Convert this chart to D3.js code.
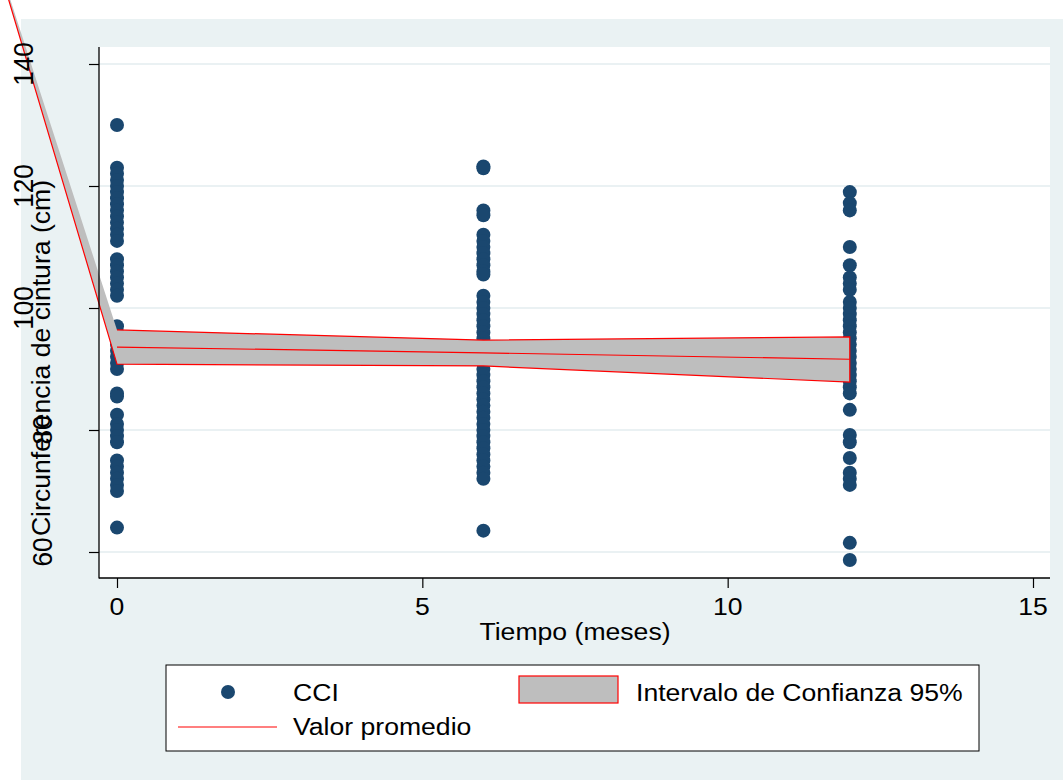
<!DOCTYPE html>
<html>
<head>
<meta charset="utf-8">
<script src="https://cdn.jsdelivr.net/npm/d3@7"></script>
<style>
  body { margin: 0; background: #fff; }
  svg { display: block; }
  text { font-family: "Liberation Sans", Arial, sans-serif; fill: #000; }
</style>
</head>
<body>
<svg id="chart" width="1063" height="780"></svg>
<script>
// Observed waist values (cm) at each visit
var timePoints = [0, 6, 12];
var cciMes0 = [130, 123, 122, 121, 120, 119, 118, 117, 116, 115, 114, 113, 112, 111,
  108, 107, 106, 105, 104, 103, 102, 97, 96, 95, 94, 93, 92, 91, 90,
  86, 85.5, 82.5, 81, 80, 79, 78, 75, 74, 73, 72, 71, 70, 64];
var cciMes6 = [123.2, 122.9, 116, 115.2, 112, 111, 110, 109, 108, 107, 106, 105.5,
  102, 101, 100, 99, 98, 97, 96, 95, 94, 93, 92, 91, 90, 89, 88, 87, 86, 85, 84,
  83, 82, 81, 80, 79, 78, 77, 76, 75, 74, 73, 72, 63.5];
var cciMes12 = [119, 117.2, 116, 110, 107, 105, 104, 103, 101, 100, 99, 98, 97, 96,
  95, 94, 93, 92, 91, 90, 89, 88, 87, 86, 83.3, 79.2, 78, 75.4, 73, 72, 71, 61.5, 58.7];

// Confidence band and mean line
var bandTime = [-2.1, 0, 6, 12];
var bandUpper = [161.5, 96.4, 94.75, 95.25];
var bandLower = [161.5, 90.8, 90.5, 87.85];
var meanTime = [0, 6, 12];
var meanValue = [93.6, 92.65, 91.6];

var xTicks = [0, 5, 10, 15];
var yTicks = [60, 80, 100, 120, 140];

var svg = d3.select("#chart");
var navy = "#1a476f", red = "#ff0000", bandGrey = "#bebebe";
var fs = 26.6, squash = 0.9;

var plot = { left: 99, top: 47, right: 1050, bottom: 578 };
var x = d3.scaleLinear().domain([0, 15]).range([117, 1033]);
var y = d3.scaleLinear().domain([60, 140]).range([552, 64]);

// graph region
svg.append("rect").attr("x", 21).attr("y", 19).attr("width", 1042).attr("height", 761)
  .attr("fill", "#eaf2f3");
svg.append("rect").attr("x", plot.left).attr("y", plot.top)
  .attr("width", plot.right - plot.left).attr("height", plot.bottom - plot.top)
  .attr("fill", "#fff");

// grid
svg.append("g").selectAll("line").data(yTicks).enter().append("line")
  .attr("x1", plot.left).attr("x2", plot.right)
  .attr("y1", d => y(d)).attr("y2", d => y(d))
  .attr("stroke", "#e3ecef").attr("stroke-width", 1.6);

// scatter
var pts = [];
[cciMes0, cciMes6, cciMes12].forEach(function(arr, i) {
  arr.forEach(function(v) { pts.push({ t: timePoints[i], v: v }); });
});
svg.append("g").selectAll("circle").data(pts).enter().append("circle")
  .attr("cx", d => x(d.t)).attr("cy", d => y(d.v)).attr("r", 7)
  .attr("fill", navy);

// band
var band = bandTime.map((t, i) => ({ t: t, lo: bandLower[i], hi: bandUpper[i] }));
var area = d3.area().x(d => x(d.t)).y0(d => y(d.lo)).y1(d => y(d.hi));
svg.append("path").datum(band).attr("d", area).attr("fill", bandGrey);

var outline = band.map(d => [x(d.t), y(d.lo)])
  .concat(band.slice(1).reverse().map(d => [x(d.t), y(d.hi)]));
svg.append("path").attr("d", d3.line()(outline))
  .attr("fill", "none").attr("stroke", red).attr("stroke-width", 1.2);

// mean line
svg.append("path")
  .attr("d", d3.line()(meanTime.map((t, i) => [x(t), y(meanValue[i])])))
  .attr("fill", "none").attr("stroke", red).attr("stroke-width", 1.2);

// axes
var yAxis = d3.axisLeft(y).tickValues(yTicks).tickSize(10).tickFormat("");
var gy = svg.append("g").attr("transform", "translate(" + plot.left + ",0)").call(yAxis);
var xAxis = d3.axisBottom(x).tickValues(xTicks).tickSize(10).tickFormat("");
var gx = svg.append("g").attr("transform", "translate(0," + plot.bottom + ")").call(xAxis);
[gx, gy].forEach(function(g) {
  g.select(".domain").remove();
  g.selectAll("line").attr("stroke", "#000").attr("stroke-width", 1.2);
});
svg.append("line").attr("x1", plot.left).attr("x2", plot.left)
  .attr("y1", plot.top).attr("y2", plot.bottom + 0.6)
  .attr("stroke", "#000").attr("stroke-width", 1.3);
svg.append("line").attr("x1", plot.left).attr("x2", plot.right)
  .attr("y1", plot.bottom).attr("y2", plot.bottom)
  .attr("stroke", "#000").attr("stroke-width", 1.3);

// tick labels (two-digit y labels sit further right, as in the original)
svg.append("g").selectAll("text").data(xTicks).enter().append("text")
  .attr("transform", d => "translate(" + x(d) + ",615) scale(1," + squash + ")")
  .attr("text-anchor", "middle").style("font-size", fs + "px").text(d => d);
svg.append("g").selectAll("text").data(yTicks).enter().append("text")
  .attr("transform", d => "translate(" + (d >= 100 ? 33 : 52) + "," + y(d) + ") scale(1,0.95) rotate(-90)")
  .attr("text-anchor", "middle").style("font-size", (fs + 1) + "px").text(d => d);

// axis titles
svg.append("text").attr("transform", "translate(575,640) scale(1," + squash + ")")
  .attr("text-anchor", "middle").style("font-size", fs + "px").text("Tiempo (meses)");
svg.append("text").attr("transform", "translate(50,358) rotate(-90)")
  .attr("text-anchor", "middle").style("font-size", fs + "px")
  .text("Circunferencia de cintura (cm)");

// legend
var lg = svg.append("g");
lg.append("rect").attr("x", 166).attr("y", 665).attr("width", 813).attr("height", 86)
  .attr("fill", "#fff").attr("stroke", "#000").attr("stroke-width", 1);
lg.append("circle").attr("cx", 228).attr("cy", 692).attr("r", 7).attr("fill", navy);
lg.append("rect").attr("x", 519).attr("y", 676).attr("width", 99).attr("height", 27)
  .attr("fill", bandGrey).attr("stroke", red).attr("stroke-width", 1.2);
lg.append("line").attr("x1", 178).attr("x2", 277).attr("y1", 727).attr("y2", 727)
  .attr("stroke", red).attr("stroke-width", 1.2);
var legendText = [["CCI", 293, 701], ["Intervalo de Confianza 95%", 636, 701], ["Valor promedio", 293, 735]];
lg.selectAll("text.lab").data(legendText).enter().append("text")
  .attr("transform", d => "translate(" + d[1] + "," + d[2] + ") scale(1," + squash + ")")
  .style("font-size", fs + "px").text(d => d[0]);
</script>
</body>
</html>
